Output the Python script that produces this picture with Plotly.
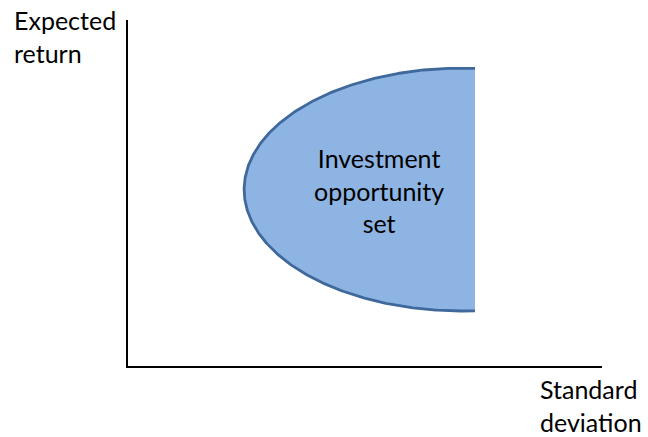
import numpy as np
import plotly.graph_objects as go

# Conceptual diagram values (axis units 0-100)
x_axis_label = "Standard<br>deviation"
y_axis_label = "Expected<br>return"
set_label = "Investment<br>opportunity<br>set"

ellipse_center = [70.5, 51.0]     # sigma, expected return
ellipse_radii = [46.0, 35.1]
sigma_cut = [73.2]                # set is truncated at this std deviation
label_pos = [53.0, 50.6]

fill_color = "#8EB4E3"
edge_color = "#3F689C"

cx, cy = ellipse_center
a, b = ellipse_radii
cut = sigma_cut[0]
t_end = np.arccos((cut - cx) / a)
t = np.linspace(t_end, 2 * np.pi - t_end, 400)
ex = cx + a * np.cos(t)
ey = cy + b * np.sin(t)

fig = go.Figure()
fig.add_trace(go.Scatter(x=np.append(ex, ex[0]), y=np.append(ey, ey[0]), mode="lines",
                         fill="toself", fillcolor=fill_color,
                         line=dict(width=0, color=fill_color), hoverinfo="skip"))
fig.add_trace(go.Scatter(x=ex, y=ey, mode="lines",
                         line=dict(width=2.8, color=edge_color), hoverinfo="skip"))

font = dict(family="Lato, Open Sans, sans-serif", size=25, color="#000000")
fig.add_annotation(x=label_pos[0], y=label_pos[1], xref="x", yref="y", text=set_label,
                   showarrow=False, font=font, align="center",
                   xanchor="center", yanchor="middle")
fig.add_annotation(x=-0.245, y=1.05, xref="paper", yref="paper", text=y_axis_label,
                   showarrow=False, font=font, align="left", xanchor="left", yanchor="top")
fig.add_annotation(x=0.866, y=-0.017, xref="paper", yref="paper", text=x_axis_label,
                   showarrow=False, font=font, align="left", xanchor="left", yanchor="top")

axis_common = dict(showgrid=False, zeroline=False, showticklabels=False, ticks="",
                   showline=True, linewidth=2, linecolor="#000000", mirror=False,
                   fixedrange=True)
fig.update_xaxes(range=[0, 100], **axis_common)
fig.update_yaxes(range=[0, 100], **axis_common)

fig.update_layout(width=648, height=437, showlegend=False,
                  margin=dict(l=128, r=46, t=20, b=71),
                  paper_bgcolor="#FFFFFF", plot_bgcolor="#FFFFFF")

fig.write_html("out.html", config={"displayModeBar": False},
               post_script="document.body.style.margin='0';")
